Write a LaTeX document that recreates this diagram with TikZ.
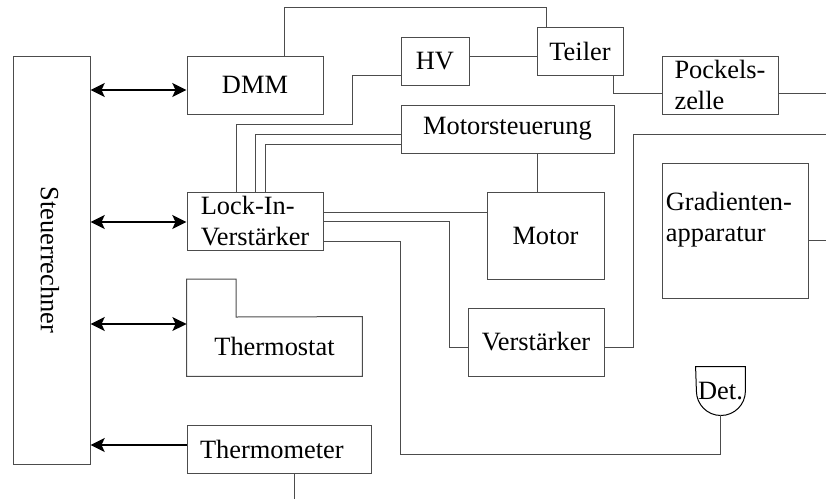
\documentclass[tikz,border=0pt]{standalone}
\usepackage{fontspec}
\setmainfont{Liberation Serif}
\usetikzlibrary{arrows.meta}

\begin{document}
\begin{tikzpicture}[x=0.5pt, y=-0.5pt, font=\fontsize{13.2}{15.5}\selectfont,
    block/.style={draw=black!70, line width=0.5pt, inner sep=0pt, align=center},
    wire/.style={draw=black!70, line width=0.5pt},
    link/.style={line width=1.35pt},
    >={Stealth[length=7pt, width=6.8pt, inset=1.5pt]}]
  \useasboundingbox (0,0) rectangle (826,499);

  \node[block, minimum width=38.5pt, minimum height=204pt] (rechner) at (51.5,260) {};
  \node[rotate=-90] (rechner-text) at (50,260) {Steuerrechner};

  \node[block, minimum width=68pt, minimum height=29pt] (dmm) at (255,85) {DMM};
  \node[block, minimum width=34pt, minimum height=24pt] (hv) at (435,61) {HV};
  \node[block, minimum width=43pt, minimum height=24pt] (teiler) at (580,51) {Teiler};
  \node[block, minimum width=58pt, minimum height=29pt, align=left] (pockels) at (720,85) {Pockels-\\zelle};
  \node[block, minimum width=106.5pt, minimum height=24pt] (motor-st) at (507.5,129) {Motorsteuerung};
  \node[block, minimum width=58.5pt, minimum height=43.5pt] (motor) at (545.5,235.5) {Motor};
  \node[block, minimum width=68pt, minimum height=29pt, align=left] (lock-in) at (255,221) {Lock-In-\\Verstärker};
  \node[block, minimum width=68pt, minimum height=34pt] (verst) at (536,342) {Verstärker};
  \node[block, minimum width=73pt, minimum height=67.5pt] (grad) at (735,230.5) {};
  \node[anchor=west, inner xsep=2pt, align=left] (grad-text) at ([yshift=5.25pt]grad.west) {Gradienten-\\apparatur};
  \node[minimum width=87.5pt, minimum height=29.5pt, inner sep=0pt] (thermostat) at (274.5,346.5) {Thermostat};
  \node[block, minimum height=24pt, inner xsep=6.5pt, text width=79pt, align=left] (thermometer) at (279,449) {Thermometer};
  \node[minimum width=24.5pt, minimum height=24pt, inner sep=0pt] (det) at (720.5,391) {Det.};

  \draw[wire] (thermostat.south west) -- (thermostat.south east) -- (thermostat.north east)
    -- (236,317) -- (236,279) -- (thermostat.south west |- 0,279) -- cycle;
  \draw[wire, draw=black] (det.north west) -- (det.north east) -- (det.east)
    arc[start angle=0, end angle=-180, radius=12.25pt] -- cycle;

  \coordinate (out-pockels) at (826,93);
  \coordinate (out-verst) at (826,134);
  \coordinate (out-grad) at (826,240);
  \coordinate (out-thermometer) at (294,499);

  \draw[wire] (dmm.north -| 284,0) |- (546,7) -- (teiler.north -| 546,0);
  \draw[wire] (hv.east |- 0,56) -- (teiler.west |- 0,56);
  \draw[wire] (teiler.south -| 613,0) |- (pockels.west |- out-pockels);
  \draw[wire] (pockels.east |- out-pockels) -- (out-pockels);
  \draw[wire] (motor-st.south -| 537,0) -- (motor.north -| 537,0);
  \draw[wire] (lock-in.north -| 236,0) |- (352,124) |- (hv.west |- 0,75);
  \draw[wire] (lock-in.north -| 255,0) |- (motor-st.west |- 0,134);
  \draw[wire] (lock-in.north -| 265,0) |- (motor-st.west |- 0,144);
  \draw[wire] (lock-in.east |- 0,212) -- (motor.west |- 0,212);
  \draw[wire] (lock-in.east |- 0,221) -| (449,347) -- (verst.west |- 0,347);
  \draw[wire] (lock-in.east |- 0,241) -| (400,454) -| (det.south);
  \draw[wire] (verst.east |- 0,347) -| (633,134) -- (out-verst);
  \draw[wire] (grad.east |- out-grad) -- (out-grad);
  \draw[wire] (thermometer.south -| out-thermometer) -- (out-thermometer);

  \draw[link, <->] (rechner.east |- 0,90) -- (dmm.west |- 0,90);
  \draw[link, <->] (rechner.east |- 0,222) -- (lock-in.west |- 0,222);
  \draw[link, <->] (rechner.east |- 0,324) -- (thermostat.west |- 0,324);
  \draw[link, ->] (thermometer.west |- 0,445) -- (rechner.east |- 0,445);
\end{tikzpicture}
\end{document}
